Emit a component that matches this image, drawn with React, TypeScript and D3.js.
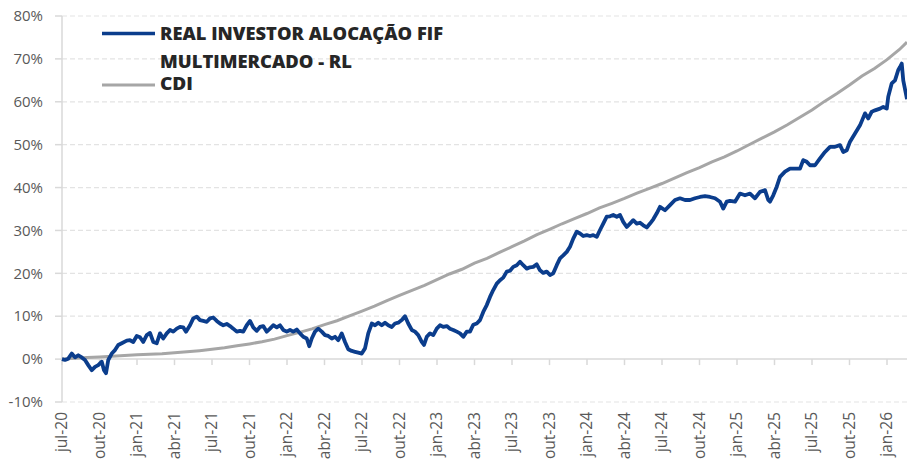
import React from "react";
import * as d3 from "d3";

// x = months since jul-20, y = cumulative return in %
const fundSeries: [number, number][] = [
  [0, 0.0], [0.24, -0.2], [0.5, 0.1], [0.78, 1.3], [1.04, 0.4], [1.3, 0.9], [1.58, 0.4], [1.84, -0.2],
  [2.1, -1.4], [2.38, -2.6], [2.64, -1.8], [2.9, -1.4], [3.18, -0.6], [3.36, -2.6], [3.52, -3.3], [3.7, -0.2],
  [3.98, 1.3], [4.24, 2.1], [4.5, 3.3], [4.78, 3.7], [5.18, 4.3], [5.44, 4.4], [5.7, 4.0], [5.98, 5.4],
  [6.24, 5.1], [6.5, 4.0], [6.78, 5.6], [7.04, 6.1], [7.3, 4.0], [7.58, 3.7], [7.84, 6.0], [8.1, 4.8],
  [8.38, 6.0], [8.64, 6.8], [8.9, 6.4], [9.18, 7.1], [9.44, 7.5], [9.7, 7.4], [9.92, 6.4], [10.24, 7.9],
  [10.5, 9.5], [10.78, 9.9], [11.04, 9.1], [11.3, 8.9], [11.58, 8.7], [11.84, 9.5], [12.1, 9.7], [12.38, 8.9],
  [12.64, 8.3], [12.9, 7.9], [13.18, 8.2], [13.44, 7.7], [13.7, 7.1], [13.98, 6.4], [14.24, 6.6], [14.5, 6.4],
  [14.78, 7.9], [15.04, 8.9], [15.3, 7.4], [15.58, 6.6], [15.84, 7.5], [16.1, 7.7], [16.38, 6.4], [16.64, 7.1],
  [16.9, 7.9], [17.18, 7.4], [17.44, 7.9], [17.7, 6.8], [17.98, 6.4], [18.24, 6.8], [18.5, 6.4], [18.78, 6.9],
  [19.04, 6.0], [19.3, 5.2], [19.58, 4.8], [19.78, 3.0], [19.98, 4.8], [20.24, 6.4], [20.5, 7.1], [20.78, 6.4],
  [21.04, 5.6], [21.3, 5.4], [21.58, 4.8], [21.84, 5.2], [22.1, 4.4], [22.38, 6.0], [22.64, 4.0], [22.9, 2.3],
  [23.18, 1.9], [23.44, 1.7], [23.7, 1.5], [23.98, 1.3], [24.24, 2.5], [24.5, 6.0], [24.78, 8.3], [25.04, 7.9],
  [25.3, 8.5], [25.58, 7.9], [25.84, 8.5], [26.1, 7.9], [26.38, 7.5], [26.64, 8.3], [26.9, 8.5], [27.18, 9.1],
  [27.44, 10.0], [27.7, 8.3], [27.98, 6.8], [28.24, 6.4], [28.5, 5.6], [28.78, 4.0], [28.96, 3.3], [29.18, 5.2],
  [29.44, 6.0], [29.7, 5.6], [29.98, 7.1], [30.24, 7.9], [30.5, 7.5], [30.78, 7.7], [31.04, 7.1], [31.3, 6.8],
  [31.58, 6.4], [31.84, 6.0], [32.1, 5.2], [32.38, 6.4], [32.64, 6.4], [32.9, 8.0], [33.18, 8.3], [33.44, 9.1],
  [33.7, 11.0], [33.98, 12.6], [34.24, 14.5], [34.5, 16.1], [34.78, 17.6], [35.04, 18.4], [35.3, 19.0], [35.58, 20.4],
  [35.84, 20.6], [36.1, 21.5], [36.38, 21.9], [36.64, 22.7], [36.9, 21.9], [37.18, 21.1], [37.44, 21.4], [37.7, 21.5],
  [37.98, 22.1], [38.24, 20.7], [38.5, 20.1], [38.78, 20.4], [39.04, 19.6], [39.3, 20.0], [39.58, 21.9], [39.84, 23.5],
  [40.1, 24.2], [40.38, 25.0], [40.64, 26.2], [40.9, 28.1], [41.18, 29.7], [41.44, 29.3], [41.7, 28.7], [41.98, 28.9],
  [42.24, 28.7], [42.5, 28.9], [42.78, 28.5], [43.04, 30.1], [43.3, 31.6], [43.58, 33.2], [43.84, 33.3], [44.1, 33.6],
  [44.38, 33.2], [44.64, 33.6], [44.9, 32.0], [45.18, 30.8], [45.44, 31.6], [45.7, 32.4], [45.98, 31.6], [46.24, 31.8],
  [46.5, 31.2], [46.78, 30.7], [47.04, 31.6], [47.3, 32.6], [47.58, 34.0], [47.84, 35.5], [48.24, 34.7], [48.64, 35.9],
  [49.04, 37.1], [49.44, 37.5], [49.84, 37.1], [50.24, 37.1], [50.64, 37.5], [51.04, 37.8], [51.44, 38.0], [51.84, 37.8],
  [52.24, 37.5], [52.64, 36.7], [52.9, 35.1], [53.18, 36.7], [53.44, 36.9], [53.84, 36.7], [54.24, 38.6], [54.64, 38.2],
  [55.04, 38.6], [55.44, 37.5], [55.84, 39.0], [56.24, 39.4], [56.5, 37.1], [56.64, 36.7], [56.9, 38.2], [57.18, 40.2],
  [57.44, 42.5], [57.84, 43.7], [58.24, 44.4], [58.64, 44.4], [59.04, 44.4], [59.3, 46.4], [59.58, 46.0], [59.84, 45.2],
  [60.24, 45.2], [60.64, 46.8], [61.04, 48.3], [61.44, 49.5], [61.84, 49.5], [62.24, 49.9], [62.5, 48.3], [62.78, 48.7],
  [63.04, 50.7], [63.44, 52.6], [63.84, 54.5], [64.24, 57.3], [64.5, 56.1], [64.78, 57.7], [65.04, 58.0], [65.44, 58.4],
  [65.7, 58.8], [65.98, 58.4], [66.1, 61.2], [66.38, 64.3], [66.64, 65.0], [66.9, 67.4], [67.04, 68.1], [67.18, 68.9],
  [67.3, 65.0], [67.6, 60.6],
];

const cdiSeries: [number, number][] = [
  [0, 0], [1, 0.19], [2, 0.35], [3, 0.51], [4, 0.67], [5, 0.82], [6, 0.99], [7, 1.14], [8, 1.27], [9, 1.47],
  [10, 1.69], [11, 1.96], [12, 2.28], [13, 2.65], [14, 3.09], [15, 3.54], [16, 4.05], [17, 4.66], [18, 5.47],
  [19, 6.24], [20, 7.05], [21, 8.04], [22, 8.94], [23, 10.06], [24, 11.18], [25, 12.33], [26, 13.64], [27, 14.86],
  [28, 16.03], [29, 17.21], [30, 18.52], [31, 19.85], [32, 20.95], [33, 22.37], [34, 23.49], [35, 24.87], [36, 26.21],
  [37, 27.56], [38, 29.01], [39, 30.26], [40, 31.56], [41, 32.77], [42, 33.95], [43, 35.25], [44, 36.33], [45, 37.46],
  [46, 38.68], [47, 39.83], [48, 40.94], [49, 42.22], [50, 43.46], [51, 44.67], [52, 46.01], [53, 47.16], [54, 48.53],
  [55, 50.03], [56, 51.52], [57, 52.97], [58, 54.59], [59, 56.35], [60, 58.07], [61, 60.09], [62, 61.95], [63, 63.93],
  [64, 66.03], [65, 67.77], [66, 69.82], [67, 72.2], [67.6, 73.9],
];

const xTickLabels = [
  "jul-20", "out-20", "jan-21", "abr-21", "jul-21", "out-21", "jan-22", "abr-22", "jul-22", "out-22",
  "jan-23", "abr-23", "jul-23", "out-23", "jan-24", "abr-24", "jul-24", "out-24", "jan-25", "abr-25",
  "jul-25", "out-25", "jan-26",
];
const yTicks = [-10, 0, 10, 20, 30, 40, 50, 60, 70, 80];

const fundName = ["REAL INVESTOR ALOCAÇÃO FIF", "MULTIMERCADO - RL"];
const cdiName = "CDI";

const W = 907;
const H = 465;
const FONT = "'Open Sans', 'DejaVu Sans', sans-serif";

const App = () => {
  const x = d3.scaleLinear().domain([0, 67.6]).range([62, 907]);
  const y = d3.scaleLinear().domain([-10, 80]).range([402, 16]);

  const line = d3
    .line<[number, number]>()
    .x((d) => x(d[0]))
    .y((d) => y(d[1]));

  return (
    <div style={{ position: "absolute", left: 0, top: 0 }}>
      <style>{`body{margin:0}`}</style>
      <svg width={W} height={H} style={{ display: "block", background: "#fff" }}>
        {/* grid */}
        {yTicks.map((t) => (
          <g key={t}>
            {t !== 0 && (
              <line x1={62} x2={W} y1={y(t)} y2={y(t)} stroke="#e3e3e3" strokeWidth={1.2} strokeDasharray="5,3" />
            )}
            <line x1={55} x2={62} y1={y(t)} y2={y(t)} stroke="#d9d9d9" strokeWidth={1.5} />
            <text x={43} y={y(t)} dy="0.35em" textAnchor="end" fontFamily={FONT} fontSize={15} fill="#595959">
              {t}%
            </text>
          </g>
        ))}
        <line x1={62} x2={62} y1={y(80)} y2={y(-10)} stroke="#d9d9d9" strokeWidth={1.5} />
        <line x1={62} x2={W} y1={y(0)} y2={y(0)} stroke="#d9d9d9" strokeWidth={1.5} />

        {/* x ticks */}
        {xTickLabels.map((lbl, i) => (
          <g key={lbl}>
            <line x1={x(i * 3)} x2={x(i * 3)} y1={y(0)} y2={y(0) + 6} stroke="#d9d9d9" strokeWidth={1.5} />
            <text
              transform={`translate(${x(i * 3)},412) rotate(-90)`}
              dy="0.35em"
              textAnchor="end"
              fontFamily={FONT}
              fontSize={15.5}
              fill="#595959"
            >
              {lbl}
            </text>
          </g>
        ))}

        {/* series */}
        <path d={line(cdiSeries) || ""} fill="none" stroke="#a6a6a6" strokeWidth={3} />
        <path d={line(fundSeries) || ""} fill="none" stroke="#0b3d8c" strokeWidth={3.8} strokeLinejoin="round" />

        {/* legend */}
        <line x1={102} x2={155} y1={33.5} y2={33.5} stroke="#0b3d8c" strokeWidth={3.5} />
        <text x={160} y={39.5} fontFamily={FONT} fontWeight={800} fontSize={17} fill="#262626" textLength={283} lengthAdjust="spacingAndGlyphs">
          {fundName[0]}
        </text>
        <text x={160} y={67.5} fontFamily={FONT} fontWeight={800} fontSize={17} fill="#262626" textLength={192} lengthAdjust="spacingAndGlyphs">
          {fundName[1]}
        </text>
        <line x1={102} x2={155} y1={85} y2={85} stroke="#a6a6a6" strokeWidth={3} />
        <text x={160} y={89.5} fontFamily={FONT} fontWeight={800} fontSize={17} fill="#262626" textLength={33} lengthAdjust="spacingAndGlyphs">
          {cdiName}
        </text>
      </svg>
    </div>
  );
};

export default App;
